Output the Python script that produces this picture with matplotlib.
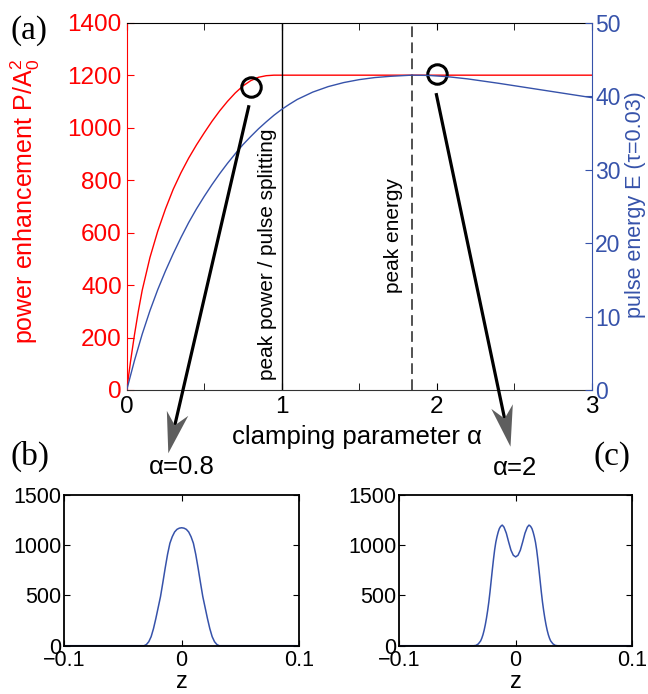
import numpy as np
import matplotlib
matplotlib.use("Agg")
import matplotlib.pyplot as plt
from matplotlib.lines import Line2D
from matplotlib.patches import Polygon
from matplotlib.transforms import IdentityTransform

plt.rcParams['font.family'] = ['Liberation Sans', 'DejaVu Sans']
plt.rcParams['mathtext.fontset'] = 'custom'
plt.rcParams['mathtext.rm'] = 'Liberation Sans'
plt.rcParams['mathtext.it'] = 'Liberation Sans:italic'

# power enhancement vs clamping parameter
alpha_p = [0, 0.025, 0.05, 0.075, 0.1, 0.15, 0.2, 0.25, 0.3, 0.35, 0.4, 0.45, 0.5,
           0.55, 0.6, 0.65, 0.7, 0.75, 0.8, 0.85, 0.9, 0.95, 1.0, 3.0]
power = [0, 110, 210, 300, 380, 505, 605, 690, 765, 828, 884, 934, 980,
         1024, 1064, 1100, 1132, 1159, 1179, 1192, 1198, 1200, 1200, 1200]

# pulse energy (tau = 0.03)
alpha_e = [0, 0.05, 0.1, 0.15, 0.2, 0.25, 0.3, 0.35, 0.4, 0.45, 0.5, 0.55, 0.6, 0.65,
           0.7, 0.75, 0.8, 0.85, 0.9, 0.95, 1.0, 1.05, 1.1, 1.2, 1.3, 1.4, 1.5, 1.6,
           1.7, 1.84, 1.95, 2.07, 2.2, 2.4, 2.6, 2.8, 3.0]
energy = [0, 4.0, 7.6, 10.8, 13.65, 16.2, 18.55, 20.75, 22.8, 24.65, 26.35, 27.95, 29.45,
          30.85, 32.15, 33.4, 34.5, 35.55, 36.5, 37.4, 38.2, 38.9, 39.55, 40.55, 41.3,
          41.85, 42.25, 42.53, 42.7, 42.86, 42.82, 42.65, 42.35, 41.75, 41.1, 40.45, 39.8]

# marked cases
alpha_mark = [0.8, 2.0]
power_mark = [1154, 1204]
alpha_split = 1.0
alpha_peak_e = 1.843

# pulse profiles (symmetric about z = 0)
z_half_08 = [0, 0.002, 0.004, 0.006, 0.008, 0.010, 0.012, 0.014, 0.016, 0.018, 0.020,
             0.022, 0.024, 0.026, 0.028, 0.030, 0.032, 0.1]
p_half_08 = [1174, 1170, 1158, 1132, 1085, 1020, 910, 775, 630, 490, 380,
             270, 170, 90, 40, 12, 0, 0]

z_half_2 = [0, 0.002, 0.004, 0.006, 0.008, 0.010, 0.0114, 0.012, 0.013, 0.014, 0.015,
            0.016, 0.017, 0.018, 0.019, 0.020, 0.021, 0.022, 0.023, 0.024, 0.025, 0.026,
            0.027, 0.028, 0.029, 0.030, 0.032, 0.034, 0.036, 0.1]
p_half_2 = [884, 900, 950, 1032, 1120, 1180, 1200, 1197, 1185, 1165, 1130,
            1085, 1030, 955, 860, 755, 645, 535, 435, 350, 275, 210,
            155, 110, 75, 48, 18, 3, 0, 0]

BLUE = '#3652aa'
RED = '#ff0000'
W, H = 648, 694


def px_box(left, top, right, bottom):
    return [left / W, 1 - bottom / H, (right - left) / W, (bottom - top) / H]


def mirror(zh, ph):
    z = [-v for v in zh[:0:-1]] + list(zh)
    p = list(ph[:0:-1]) + list(ph)
    return z, p


fig = plt.figure(figsize=(W / 100, H / 100), dpi=100)

# ---- (a) main panel
ax = fig.add_axes(px_box(126.7, 22.7, 591.7, 390))
ax.plot(alpha_p, power, color=RED, lw=1)
ax.set_xlim(0, 3)
ax.set_ylim(0, 1400)
ax.set_xticks([0, 1, 2, 3])
ax.set_xticks(np.arange(0, 3.01, 0.5), minor=True)
ax.set_yticks(range(0, 1401, 200))
ax.tick_params(axis='x', which='both', direction='in', top=True, length=5,
               labelsize=17.5, pad=4)
ax.tick_params(axis='y', direction='in', length=5, colors=RED, labelsize=17.5, pad=3.5)
ax.spines['left'].set_color(RED)
ax.spines['right'].set_visible(False)
ax.spines['bottom'].set_color('#333333')
ax.set_ylabel(r'power enhancement $\mathrm{P/A}_0^2$', color=RED, fontsize=18)
ax.yaxis.set_label_coords(-0.182, 0.512)
ax.set_xlabel('clamping parameter α', fontsize=18.5)
ax.xaxis.set_label_coords(0.495, -0.095)

ax.axvline(alpha_split, color='k', lw=1)
ax.axvline(alpha_peak_e, color='#222222', lw=1.1, linestyle=(0, (7, 3.5)))
ax.text(0.91, 38, 'peak power / pulse splitting', rotation=90, ha='center',
        va='bottom', fontsize=15)
ax.text(1.72, 370, 'peak energy', rotation=90, ha='center', va='bottom', fontsize=15)

ax2 = ax.twinx()
ax2.plot(alpha_e, energy, color=BLUE, lw=1)
ax2.set_ylim(0, 50)
ax2.set_yticks(range(0, 51, 10))
ax2.tick_params(axis='y', direction='in', length=5, colors=BLUE, labelsize=16.5, pad=2.5)
ax2.spines['right'].set_color(BLUE)
for s in ['left', 'top', 'bottom']:
    ax2.spines[s].set_visible(False)
ax2.set_ylabel('pulse energy E (τ=0.03)', color=BLUE, fontsize=15.5)
ax2.yaxis.set_label_coords(1.072, 0.504)

ax.plot(alpha_mark, power_mark, 'o', ms=14, mfc='none', mec='k', mew=2.2,
        clip_on=False, zorder=6)


# pointers from the marked points down to the pulse panels
def draw_pointer(start, tip):
    start = np.asarray(start, float)
    tip = np.asarray(tip, float)
    u = (tip - start) / np.hypot(*(tip - start))
    n = np.array([-u[1], u[0]])
    head_len, head_w = 41, 11
    notch = tip - 0.7 * head_len * u
    fig.add_artist(Line2D([start[0], notch[0]], [start[1], notch[1]], color='k',
                          lw=2.3, solid_capstyle='butt', transform=IdentityTransform()))
    head = Polygon([tip, tip - head_len * u + head_w * n, notch,
                    tip - head_len * u - head_w * n], closed=True,
                   fc='#5e5e5e', ec='none', transform=IdentityTransform(), zorder=7)
    fig.add_artist(head)


mark_disp = ax.transData.transform(np.column_stack([alpha_mark, power_mark]))
draw_pointer(mark_disp[0] + [-1.7, -18], (168.3, H - 453.3))
draw_pointer(mark_disp[1] + [-0.6, -19], (510.5, H - 446.7))


# ---- (b), (c) pulse shapes
def pulse_panel(box, z, p):
    a = fig.add_axes(box)
    a.plot(z, p, color=BLUE, lw=1.1, clip_on=False)
    a.set_xlim(-0.1, 0.1)
    a.set_ylim(0, 1500)
    a.set_xticks([-0.1, 0, 0.1])
    a.set_xticklabels(['\u22120.1', '0', '0.1'])
    a.set_yticks([0, 500, 1000, 1500])
    a.tick_params(direction='in', top=True, right=True, length=4, labelsize=15.5)
    a.tick_params(axis='x', pad=3)
    a.tick_params(axis='y', pad=2)
    for s in a.spines.values():
        s.set_linewidth(1.3)
    a.set_xlabel('z', fontsize=17, labelpad=0)
    return a


pulse_panel(px_box(64.3, 495, 299, 645.7), *mirror(z_half_08, p_half_08))
pulse_panel(px_box(399, 495, 632.3, 645.7), *mirror(z_half_2, p_half_2))

fig.text(181.7 / W, 1 - 467 / H, 'α=0.8', ha='center', va='center', fontsize=18.5)
fig.text(515 / W, 1 - 468 / H, 'α=2', ha='center', va='center', fontsize=18.5)

serif = ['Liberation Serif', 'DejaVu Serif']
fig.text(29 / W, 1 - 31 / H, '(a)', ha='center', va='center', fontsize=24, family=serif)
fig.text(30 / W, 1 - 456 / H, '(b)', ha='center', va='center', fontsize=24, family=serif)
fig.text(612 / W, 1 - 457 / H, '(c)', ha='center', va='center', fontsize=24, family=serif)

fig.savefig('out.png', dpi=100, facecolor='white')
